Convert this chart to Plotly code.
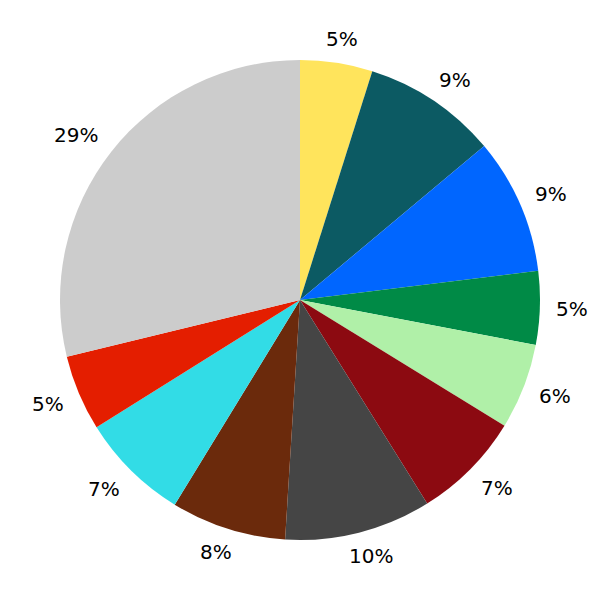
import math
import plotly.graph_objects as go

labels = ["A", "B", "C", "D", "E", "F", "G", "H", "I", "J", "K"]
values = [4.87, 9.05, 9.14, 4.94, 5.77, 7.34, 9.88, 7.75, 7.36, 5.10, 28.80]
colors = ["#FFE45C", "#0C5A63", "#0066FF", "#008A46", "#B0F0A8", "#8C0A11",
          "#454545", "#6B2A0C", "#32DCE6", "#E41E00", "#CCCCCC"]

FONT_SIZE = 20
PIE_R = 240.0          # pixel radius of the pie (domain 480 px)
LABEL_R = 256.0        # pixel radius of the label anchor circle
CAP_H = 15.0           # approx height of digit glyphs


def text_width(s):
    w = 0.0
    for ch in s:
        w += 0.95 if ch == "%" else 0.636
    return w * FONT_SIZE


fig = go.Figure(go.Pie(
    labels=labels, values=values, sort=False, direction="clockwise", rotation=0,
    marker=dict(colors=colors, line=dict(width=0)),
    textinfo="none", hoverinfo="label+percent", showlegend=False,
    domain=dict(x=[0, 1], y=[0, 1]),
))

total = sum(values)
cum = 0.0
annotations = []
for v in values:
    mid = (cum + v / 2) / total * 2 * math.pi
    cum += v
    txt = "%.0f%%" % (v / total * 100)
    s, c = math.sin(mid), math.cos(mid)
    w = text_width(txt)
    fx = math.copysign(min(1.0, 1.4 * abs(s)), s)
    fy = math.copysign(min(1.0, 1.4 * abs(c)), c)
    dx = LABEL_R * s + w / 2 * fx
    dy = LABEL_R * c + CAP_H / 2 * fy
    annotations.append(dict(
        x=0.5 + dx / (2 * PIE_R), y=0.5 + dy / (2 * PIE_R),
        xref="paper", yref="paper", text=txt,
        showarrow=False, xanchor="center", yanchor="middle",
        font=dict(family="DejaVu Sans", size=FONT_SIZE, color="#000000"),
    ))

fig.update_layout(
    width=600, height=600, margin=dict(l=52, r=68, t=52, b=68),
    paper_bgcolor="white", plot_bgcolor="white", annotations=annotations,
)
fig.write_html("out.html")
